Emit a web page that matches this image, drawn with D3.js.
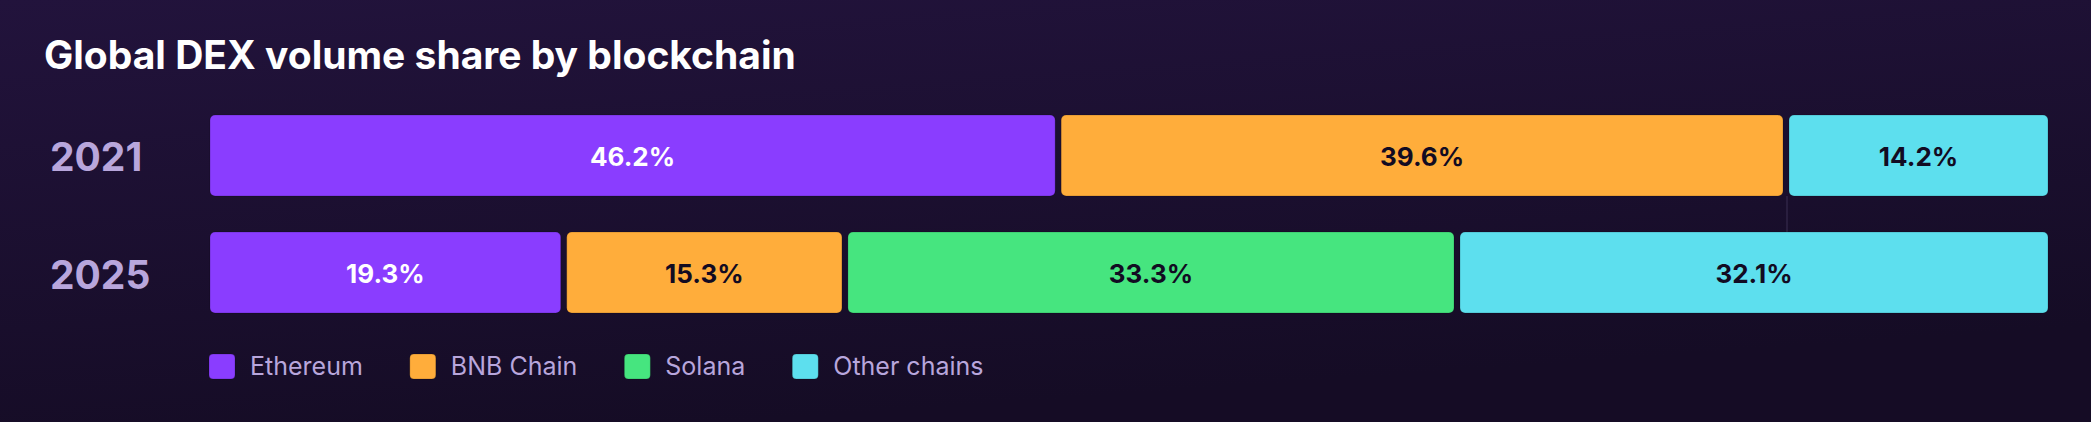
<!DOCTYPE html>
<html>
<head>
<meta charset="utf-8">
<script src="https://cdn.jsdelivr.net/npm/d3@7"></script>
<style>
  html, body { margin: 0; padding: 0; background: #1a0f2e; }
  svg { display: block; }
</style>
</head>
<body>
<svg id="chart" width="2091" height="422"></svg>
<script>
const title = "Global DEX volume share by blockchain";
const years = ["2021", "2025"];
const chains = ["Ethereum", "BNB Chain", "Solana", "Other chains"];
const colors = ["#8a3dff", "#ffad3b", "#46e57f", "#5ddfee"];
const labelColors = ["#ffffff", "#120b22", "#120b22", "#120b22"];
const share2021 = [46.2, 39.6, 0, 14.2];
const share2025 = [19.3, 15.3, 33.3, 32.1];
const shares = [share2021, share2025];

const W = 2091, H = 422;
const svg = d3.select("#chart");

const defs = svg.append("defs");
const grad = defs.append("linearGradient").attr("id", "bg")
  .attr("x1", "0").attr("y1", "0").attr("x2", "0.35").attr("y2", "1");
grad.append("stop").attr("offset", "0%").attr("stop-color", "#22133c");
grad.append("stop").attr("offset", "100%").attr("stop-color", "#150c25");
svg.append("rect").attr("width", W).attr("height", H).attr("fill", "url(#bg)");

svg.append("text")
  .attr("x", 44).attr("y", 69)
  .attr("font-family", "Inter, sans-serif").attr("font-weight", 700)
  .attr("font-size", 39).attr("fill", "#ffffff")
  .text(title);

const x = d3.scaleLinear().domain([0, 100]).range([210, 2048]);
const y = d3.scaleBand().domain(years).range([115, 313]).paddingInner(0.308);

// build segments
const segs = [];
years.forEach((yr, i) => {
  let cum = 0;
  const vals = shares[i];
  const nonZero = vals.map((v, k) => k).filter(k => vals[k] > 0);
  const lastK = nonZero[nonZero.length - 1];
  vals.forEach((v, k) => {
    if (v <= 0) return;
    segs.push({ year: yr, k, v, start: cum, end: cum + v, first: cum === 0, last: k === lastK });
    cum += v;
  });
});

// faint connector line at 2021 BNB/Other boundary
const bEnd = share2021[0] + share2021[1];
svg.append("line")
  .attr("x1", x(bEnd)).attr("x2", x(bEnd))
  .attr("y1", y("2021") + y.bandwidth()).attr("y2", y("2025"))
  .attr("stroke", "#3a2e52").attr("stroke-width", 1);

const g = svg.append("g");
g.selectAll("rect.seg").data(segs).join("rect")
  .attr("class", "seg")
  .attr("x", d => d.first ? x(d.start) : x(d.start) + 2)
  .attr("width", d => (d.last ? x(d.end) : x(d.end) - 4) - (d.first ? x(d.start) : x(d.start) + 2))
  .attr("y", d => y(d.year))
  .attr("height", y.bandwidth())
  .attr("rx", 5).attr("ry", 5)
  .attr("fill", d => colors[d.k])
  .attr("stroke", "rgba(0,0,0,0.18)").attr("stroke-width", 1);

g.selectAll("text.val").data(segs).join("text")
  .attr("class", "val")
  .attr("x", d => {
    const x0 = d.first ? x(d.start) : x(d.start) + 2;
    const x1 = d.last ? x(d.end) : x(d.end) - 4;
    return (x0 + x1) / 2;
  })
  .attr("y", d => y(d.year) + y.bandwidth() / 2 + 10.5)
  .attr("text-anchor", "middle")
  .attr("font-family", "Inter, sans-serif").attr("font-weight", 700)
  .attr("font-size", 26)
  .attr("fill", d => labelColors[d.k])
  .text(d => d.v.toFixed(1) + "%");

svg.selectAll("text.year").data(years).join("text")
  .attr("class", "year")
  .attr("x", 50)
  .attr("y", d => y(d) + y.bandwidth() / 2 + 16)
  .attr("font-family", "Inter, sans-serif").attr("font-weight", 700)
  .attr("font-size", 39).attr("fill", "#b8a6dc")
  .text(d => d);

// legend
const leg = svg.append("g");
let lx = 209;
chains.forEach((c, k) => {
  leg.append("rect")
    .attr("x", lx).attr("y", 354).attr("width", 26).attr("height", 25)
    .attr("rx", 4).attr("fill", colors[k])
    .attr("stroke", "rgba(0,0,0,0.18)");
  const t = leg.append("text")
    .attr("x", lx + 41).attr("y", 375)
    .attr("font-family", "Inter, sans-serif").attr("font-weight", 400)
    .attr("font-size", 25).attr("fill", "#b8a6dc")
    .text(c);
  lx += 41 + t.node().getComputedTextLength() + 47;
});
</script>
</body>
</html>
